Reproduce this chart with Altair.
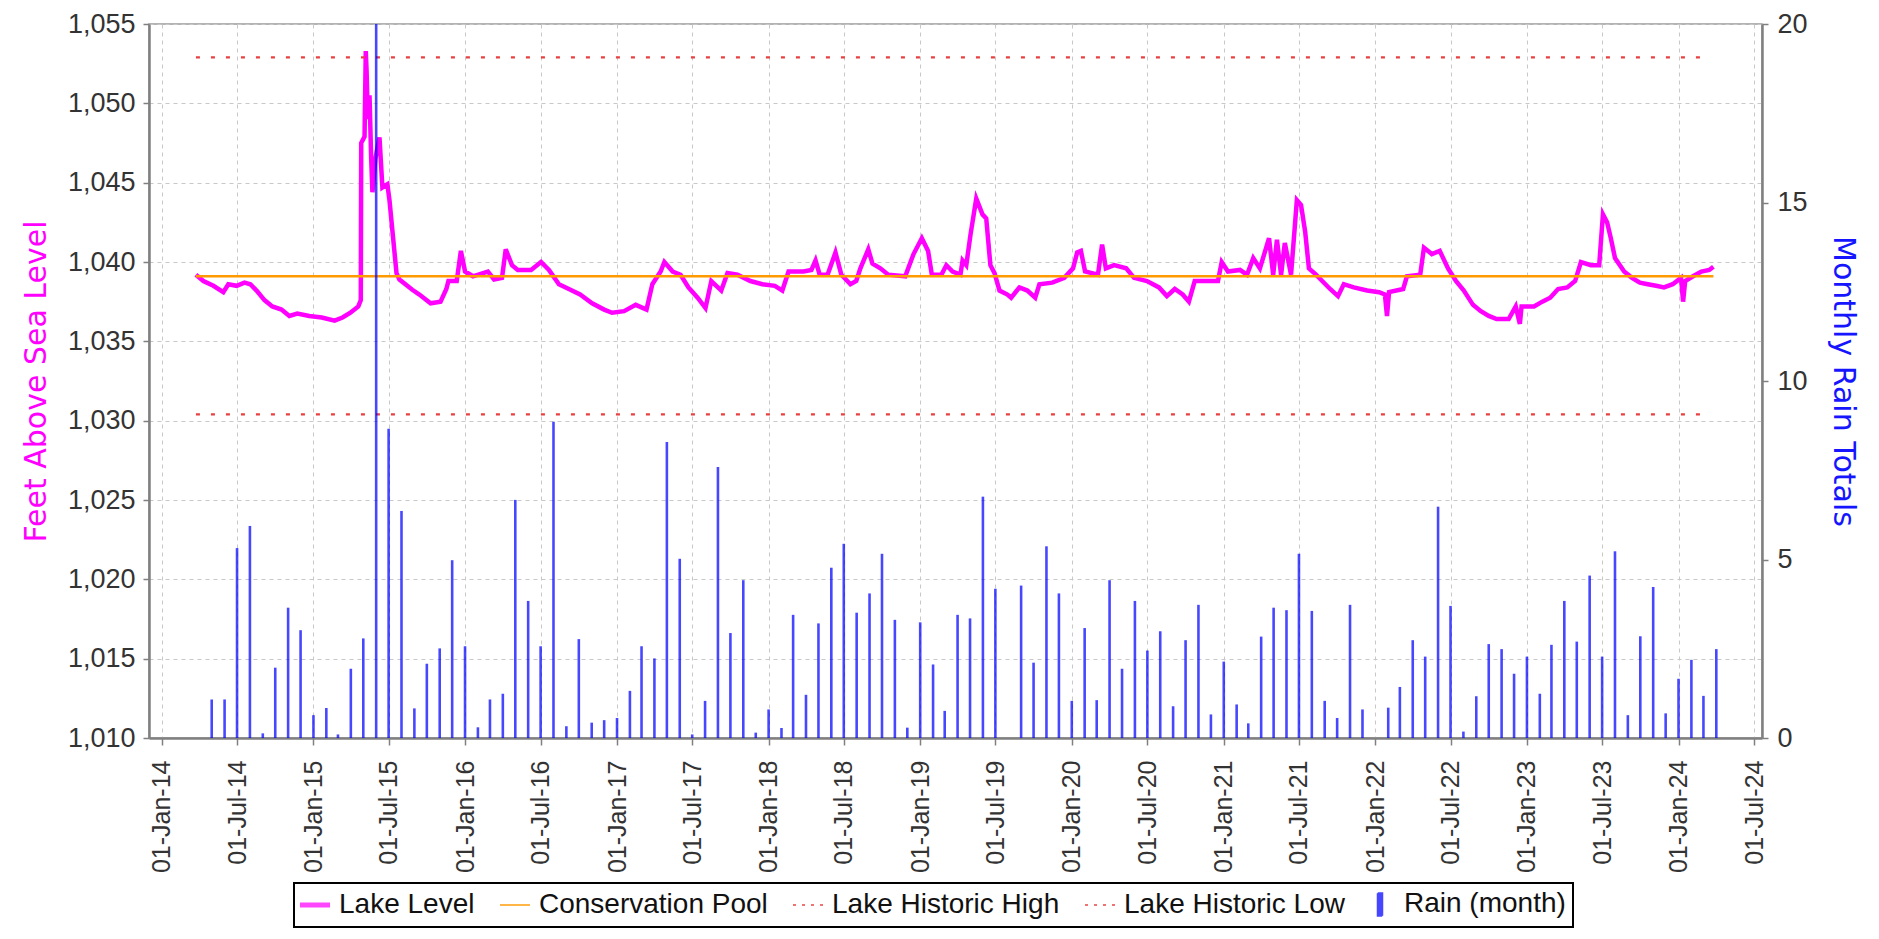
import altair as alt
import pandas as pd

# ---------------- data ----------------
lake_dates = [
    "2014-03-24", "2014-04-11", "2014-05-05", "2014-05-29", "2014-06-10", "2014-06-30",
    "2014-07-19", "2014-08-02", "2014-08-17", "2014-09-05", "2014-09-24", "2014-10-16",
    "2014-11-04", "2014-11-23", "2014-12-22", "2015-01-21", "2015-02-21", "2015-03-12",
    "2015-03-31", "2015-04-19", "2015-04-25", "2015-04-26", "2015-05-04", "2015-05-07",
    "2015-05-09", "2015-05-12", "2015-05-16", "2015-05-20", "2015-05-23", "2015-05-30",
    "2015-06-09", "2015-06-16", "2015-06-28", "2015-07-03", "2015-07-10", "2015-07-20",
    "2015-07-27", "2015-08-27", "2015-09-13", "2015-10-10", "2015-11-03", "2015-11-17",
    "2015-11-22", "2015-12-12", "2015-12-22", "2016-01-01", "2016-01-20", "2016-02-25",
    "2016-03-11", "2016-03-30", "2016-04-08", "2016-04-23", "2016-05-07", "2016-06-08",
    "2016-07-02", "2016-07-21", "2016-08-14", "2016-09-07", "2016-10-04", "2016-11-02",
    "2016-12-01", "2016-12-20", "2017-01-18", "2017-02-15", "2017-03-13", "2017-03-27",
    "2017-04-16", "2017-04-25", "2017-05-15", "2017-06-03", "2017-06-22", "2017-07-14",
    "2017-08-02", "2017-08-16", "2017-09-09", "2017-09-24", "2017-10-18", "2017-11-18",
    "2017-12-17", "2018-01-16", "2018-02-03", "2018-02-18", "2018-03-26", "2018-04-14",
    "2018-04-24", "2018-05-04", "2018-05-23", "2018-06-11", "2018-06-25", "2018-07-17",
    "2018-07-31", "2018-08-10", "2018-08-29", "2018-09-08", "2018-09-27", "2018-10-16",
    "2018-11-26", "2018-12-16", "2019-01-05", "2019-01-20", "2019-01-29", "2019-02-21",
    "2019-03-05", "2019-03-20", "2019-04-08", "2019-04-13", "2019-04-22", "2019-05-02",
    "2019-05-16", "2019-05-31", "2019-06-09", "2019-06-19", "2019-06-29", "2019-07-11",
    "2019-07-30", "2019-08-08", "2019-08-28", "2019-09-16", "2019-10-05", "2019-10-15",
    "2019-11-15", "2019-12-14", "2020-01-04", "2020-01-14", "2020-01-23", "2020-02-02",
    "2020-03-04", "2020-03-14", "2020-03-23", "2020-04-12", "2020-05-11", "2020-05-30",
    "2020-06-30", "2020-07-29", "2020-08-17", "2020-09-05", "2020-09-24", "2020-10-09",
    "2020-10-23", "2020-11-24", "2020-12-18", "2020-12-27", "2021-01-11", "2021-02-09",
    "2021-02-26", "2021-03-13", "2021-03-29", "2021-04-20", "2021-04-30", "2021-05-09",
    "2021-05-19", "2021-05-28", "2021-06-12", "2021-06-26", "2021-07-06", "2021-07-16",
    "2021-07-25", "2021-08-11", "2021-08-26", "2021-09-14", "2021-10-03", "2021-10-17",
    "2021-11-10", "2021-12-12", "2022-01-10", "2022-01-24", "2022-01-29", "2022-02-03",
    "2022-03-09", "2022-03-18", "2022-04-19", "2022-04-28", "2022-05-17", "2022-06-05",
    "2022-06-25", "2022-07-14", "2022-08-02", "2022-08-24", "2022-09-12", "2022-10-01",
    "2022-10-20", "2022-11-18", "2022-12-05", "2022-12-15", "2022-12-19", "2023-01-18",
    "2023-02-07", "2023-02-26", "2023-03-17", "2023-04-08", "2023-04-27", "2023-05-11",
    "2023-06-04", "2023-06-24", "2023-07-03", "2023-07-13", "2023-07-22", "2023-08-01",
    "2023-08-23", "2023-09-11", "2023-09-30", "2023-10-19", "2023-11-08", "2023-11-27",
    "2023-12-18", "2024-01-07", "2024-01-12", "2024-01-17", "2024-02-05", "2024-02-25",
    "2024-03-15", "2024-03-25",
]
lake_levels = [
    1039.2, 1038.8, 1038.5, 1038.1, 1038.6, 1038.5,
    1038.7, 1038.6, 1038.2, 1037.6, 1037.2, 1037.0,
    1036.6, 1036.75, 1036.6, 1036.5, 1036.3, 1036.5,
    1036.8, 1037.2, 1037.6, 1047.5, 1047.9, 1053.3,
    1052.0, 1049.0, 1050.5, 1046.5, 1044.4, 1046.5,
    1047.85, 1044.7, 1044.9, 1043.9, 1042.0, 1039.3,
    1038.9, 1038.25, 1037.95, 1037.4, 1037.5, 1038.3,
    1038.8, 1038.8, 1040.7, 1039.4, 1039.1, 1039.4,
    1038.9, 1039.0, 1040.8, 1039.8, 1039.5, 1039.5,
    1040.0, 1039.5, 1038.6, 1038.3, 1037.95, 1037.4,
    1037.0, 1036.8, 1036.9, 1037.3, 1037.0, 1038.6,
    1039.4, 1040.0, 1039.4, 1039.2, 1038.4, 1037.75,
    1037.1, 1038.8, 1038.2, 1039.3, 1039.2, 1038.8,
    1038.6, 1038.5, 1038.2, 1039.4, 1039.4, 1039.5,
    1040.1, 1039.2, 1039.2, 1040.6, 1039.2, 1038.6,
    1038.8, 1039.6, 1040.8, 1039.9, 1039.6, 1039.2,
    1039.1, 1040.5, 1041.5, 1040.7, 1039.2, 1039.2,
    1039.8, 1039.4, 1039.2, 1040.1, 1039.8, 1041.7,
    1044.0, 1043.0, 1042.75, 1039.8, 1039.3, 1038.2,
    1037.95, 1037.75, 1038.4, 1038.2, 1037.75, 1038.6,
    1038.7, 1039.0, 1039.6, 1040.6, 1040.7, 1039.4,
    1039.2, 1041.1, 1039.6, 1039.8, 1039.6, 1039.0,
    1038.8, 1038.4, 1037.85, 1038.3, 1037.95, 1037.5,
    1038.8, 1038.8, 1038.8, 1040.0, 1039.4, 1039.5,
    1039.2, 1040.25, 1039.6, 1041.5, 1039.2, 1041.4,
    1039.2, 1041.2, 1039.2, 1043.9, 1043.6, 1041.9,
    1039.6, 1039.2, 1038.8, 1038.3, 1037.85, 1038.6,
    1038.4, 1038.2, 1038.1, 1037.95, 1036.6, 1038.1,
    1038.3, 1039.1, 1039.2, 1040.9, 1040.5, 1040.7,
    1039.6, 1038.8, 1038.2, 1037.3, 1036.9, 1036.6,
    1036.4, 1036.4, 1037.2, 1036.1, 1037.2, 1037.2,
    1037.5, 1037.75, 1038.3, 1038.4, 1038.8, 1040.0,
    1039.8, 1039.8, 1043.0, 1042.5, 1041.5, 1040.25,
    1039.4, 1039.0, 1038.7, 1038.6, 1038.5, 1038.4,
    1038.6, 1039.0, 1037.5, 1038.8, 1039.1, 1039.4,
    1039.5, 1039.7,
]

# monthly rain totals, May 2014 .. Apr 2024 (one value per month)
rain_first_month = "2014-05-01"
rain_inches = [
    1.08, 1.08, 5.32, 5.94, 0.13, 1.97, 3.65, 3.02,
    0.64, 0.84, 0.10, 1.94, 2.79, 21.0, 8.66, 6.36, 0.83, 2.08, 2.51, 4.98,
    2.57, 0.30, 1.08, 1.24, 6.67, 3.84, 2.57, 8.86, 0.33, 2.77, 0.43, 0.50,
    0.56, 1.32, 2.57, 2.23, 8.29, 5.02, 0.10, 1.04, 7.59, 2.94, 4.42, 0.15,
    0.80, 0.28, 3.45, 1.21, 3.21, 4.77, 5.44, 3.51, 4.05, 5.16, 3.31, 0.29,
    3.24, 2.06, 0.76, 3.45, 3.35, 6.76, 4.18, 0.00, 4.27, 2.11, 5.37, 4.05,
    1.04, 3.08, 1.06, 4.42, 1.94, 3.84, 2.45, 2.99, 0.89, 2.74, 3.73, 0.66,
    2.14, 0.94, 0.41, 2.84, 3.65, 3.58, 5.16, 3.56, 1.04, 0.56, 3.73, 0.80,
    0.00, 0.85, 1.43, 2.74, 2.28, 6.48, 3.70, 0.18, 1.17, 2.63, 2.49, 1.80,
    2.28, 1.24, 2.61, 3.84, 2.70, 4.55, 2.28, 5.23, 0.64, 2.85, 4.23, 0.69,
    1.66, 2.19, 1.18, 2.49,
]

ref_names = ["Conservation Pool", "Lake Historic High", "Lake Historic Low"]
ref_levels = [1039.1, 1052.9, 1030.4]
ref_starts = ["2014-03-24", "2014-03-24", "2014-03-24"]
ref_ends = ["2024-03-25", "2024-03-10", "2024-03-10"]

series_order = ["Lake Level", "Conservation Pool", "Lake Historic High",
                "Lake Historic Low", "Rain (month)"]
series_colors = ["#ff00ff", "#ff9a00", "#e84040", "#e84040", "#0000ff"]

left_ticks = [1010, 1015, 1020, 1025, 1030, 1035, 1040, 1045, 1050, 1055]
right_ticks = [0, 5, 10, 15, 20]
tick_years = list(range(2014, 2025))

# ---------------- tables ----------------
lake_df = pd.DataFrame({"date": lake_dates, "level": lake_levels})
lake_df["series"] = "Lake Level"

ref_rows = []
for name, lvl, s, e in zip(ref_names, ref_levels, ref_starts, ref_ends):
    ref_rows.append({"date": s, "level": lvl, "series": name})
    ref_rows.append({"date": e, "level": lvl, "series": name})
ref_df = pd.DataFrame(ref_rows)

rain_df = pd.DataFrame({
    "date": pd.date_range(rain_first_month, periods=len(rain_inches), freq="MS").strftime("%Y-%m-%d"),
    "rain": rain_inches,
})
rain_df["series"] = "Rain (month)"

# ---------------- encodings ----------------
tick_values = []
for y in tick_years:
    tick_values.append(alt.DateTime(year=y, month=1, date=1, utc=True))
    tick_values.append(alt.DateTime(year=y, month=7, date=1, utc=True))

x_enc = alt.X(
    "date:T",
    title=None,
    scale=alt.Scale(type="utc", padding=0,
                    domain=[alt.DateTime(year=2013, month=12, date=1, utc=True),
                            alt.DateTime(year=2024, month=7, date=20, utc=True)]),
    axis=alt.Axis(values=tick_values, labelExpr="utcFormat(datum.value, '%d-%b-%y')",
                  labelAngle=-90, labelFontSize=25, tickSize=7, labelPadding=15, grid=True,
                  labelOverlap=False),
)

y_left = alt.Y(
    "level:Q",
    scale=alt.Scale(domain=[1010, 1055], nice=False, zero=False),
    axis=alt.Axis(orient="left", values=left_ticks, format=",d", title="Feet Above Sea Level",
                  titleColor="#ff00ff", titlePadding=16, labelPadding=8, grid=True),
)

y_right = alt.Y(
    "rain:Q",
    scale=alt.Scale(domain=[0, 20], nice=False),
    axis=alt.Axis(orient="right", values=right_ticks, title="Monthly Rain Totals",
                  titleColor="#1515ff", titlePadding=20, labelPadding=9, grid=False),
)

legend_def = alt.Legend(
    orient="none", legendX=145, legendY=859, direction="horizontal", columns=5,
    title=None, labelFont="Liberation Sans", labelFontSize=28, labelColor="#111111",
    labelLimit=600, symbolSize=900, labelOffset=10, columnPadding=21, padding=7,
    strokeColor="#000000",
    symbolType=alt.ExprRef(expr="datum.value === 'Rain (month)' ? 'M-0.15,-0.75L0.15,-0.75L0.15,0.75L-0.15,0.75Z' : 'stroke'"),
    symbolStrokeWidth=alt.ExprRef(expr="datum.value === 'Lake Level' ? 5 : 2"),
    symbolDash=alt.ExprRef(expr="(datum.value === 'Lake Historic High' || datum.value === 'Lake Historic Low') ? [3, 6] : [1, 0]"),
    symbolFillColor=alt.ExprRef(expr="datum.value === 'Rain (month)' ? '#0000ff' : 'transparent'"),
)

color_enc = alt.Color("series:N", title=None,
                      scale=alt.Scale(domain=series_order, range=series_colors),
                      legend=legend_def)

lake = alt.Chart(lake_df).mark_line(strokeWidth=4.5, clip=True).encode(
    x=x_enc, y=y_left, color=color_enc)

pool = alt.Chart(ref_df).transform_filter(
    alt.datum.series == "Conservation Pool"
).mark_line(strokeWidth=2.5).encode(x=x_enc, y=y_left, color=color_enc)

hist = alt.Chart(ref_df).transform_filter(
    alt.datum.series != "Conservation Pool"
).mark_line(strokeWidth=2.2, strokeDash=[4, 11]).encode(
    x=x_enc, y=y_left, color=color_enc, detail="series:N")

bars = alt.Chart(rain_df).mark_bar(size=2.6, opacity=0.72, clip=True).encode(
    x=x_enc, y=y_right, color=color_enc)

left_layer = alt.layer(lake, pool, hist)

chart = alt.layer(left_layer, bars).resolve_scale(y="independent").properties(
    width=1613, height=714,
    autosize=alt.AutoSizeParams(type="none"),
    padding={"left": 141, "top": 16, "right": 100, "bottom": 193},
).configure_view(
    stroke="#9a9a9a", strokeWidth=1.5
).configure_axis(
    labelFont="Liberation Sans", labelFontSize=27, labelColor="#333333",
    titleFont="DejaVu Sans", titleFontSize=30, titleFontWeight="normal",
    domainColor="#808080", domainWidth=2.5, tickColor="#808080", tickWidth=1.5,
    tickSize=6, gridColor="#c8c8c8", gridDash=[4, 4], gridWidth=1,
).configure_legend(strokeWidth=2)

chart.save("out.html", embed_options={"renderer": "svg", "actions": False})
